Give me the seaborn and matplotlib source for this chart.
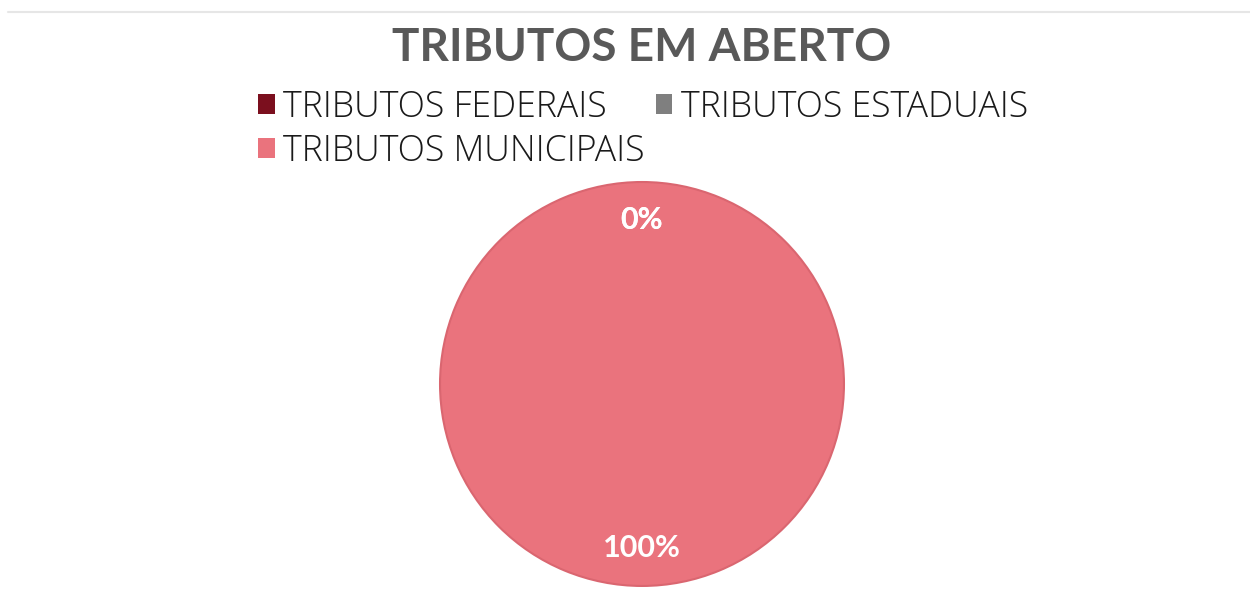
import matplotlib
matplotlib.use('Agg')
import matplotlib.pyplot as plt
from matplotlib.lines import Line2D
from matplotlib.patches import Patch
import seaborn as sns

# data
categories = ['TRIBUTOS FEDERAIS', 'TRIBUTOS ESTADUAIS', 'TRIBUTOS MUNICIPAIS']
values = [0, 0, 100]
colors = ['#7B0F1E', '#7F7F7F', '#EA737D']
title = 'TRIBUTOS EM ABERTO'

sns.set_theme(style='white')
plt.rcParams['font.family'] = ['Lato', 'DejaVu Sans']

fig = plt.figure(figsize=(12.5, 5.95), dpi=100)
fig.patch.set_facecolor('white')

# thin grey rule at the top of the chart area
fig.add_artist(Line2D([0.006, 1.0], [0.98, 0.98], color='#E6E6E6', lw=1.5))

ax = fig.add_axes([0.3504, 0.0118, 0.3264, 0.6857])
wedges, texts, autotexts = ax.pie(
    values, colors=colors, startangle=90, counterclock=False,
    autopct='%1.0f%%', pctdistance=0.81,
    wedgeprops=dict(edgecolor='#DA6670', linewidth=1.5),
    textprops=dict(color='white', fontsize=22, fontweight='bold'))
for w, v in zip(wedges, values):
    if v == 0:
        w.set_linewidth(0)
ax.set_xlim(-1.01, 1.01)
ax.set_ylim(-1.01, 1.01)
ax.set_aspect('equal')
ax.axis('off')

fig.text(0.513, 0.92, title, ha='center', va='center',
         fontsize=33, fontweight='bold', color='#595959')

# legend filled row by row (matplotlib fills columns first)
handles = [Patch(facecolor=c, edgecolor='none') for c in colors]
order = [0, 2, 1]
fig.legend([handles[i] for i in order], [categories[i] for i in order],
           loc='upper left', bbox_to_anchor=(0.1925, 0.881),
           ncol=2, frameon=False, labelcolor='#1A1A1A',
           prop=dict(family=['Open Sans', 'DejaVu Sans'], size=25.7,
                     weight='light'),
           handlelength=0.45, handleheight=0.45, handletextpad=0.25,
           columnspacing=0.3, labelspacing=0.2, borderpad=0)

fig.savefig('out.png', dpi=100, facecolor='white')
